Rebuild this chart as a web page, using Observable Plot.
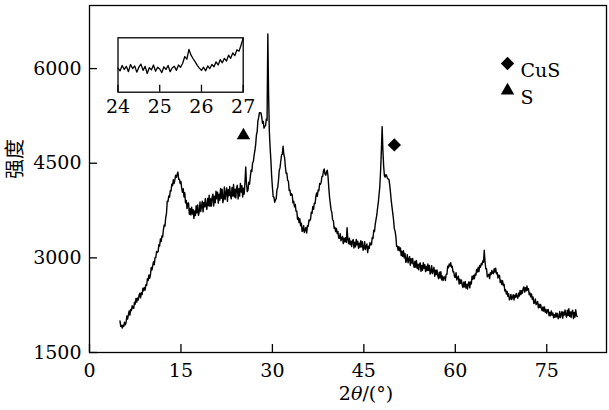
<!DOCTYPE html>
<html><head><meta charset="utf-8">
<script src="https://cdn.jsdelivr.net/npm/d3@7"></script>
<script src="https://cdn.jsdelivr.net/npm/@observablehq/plot@0.6"></script>
<style>
body{margin:0;background:#fff;}
#wrap{position:relative;width:609px;height:410px;overflow:hidden;}
#wrap svg{display:block;}
#insetBox{position:absolute;left:100px;top:30px;}
</style></head><body><div id="wrap"><div id="mainBox"></div><div id="insetBox"></div></div>
<script>
// ---- data ----
const angleStart = 5, angleStep = 0.125;
const intensity = [
2000,1915,1932,1887,1933,1913,1980,1939,
1976,2078,2028,2098,2160,2092,2184,2164,
2240,2204,2200,2297,2266,2358,2298,2366,
2330,2409,2440,2367,2446,2418,2518,2477,
2532,2490,2576,2566,2668,2639,2730,2677,
2736,2848,2808,2878,2940,2892,3004,3004,
3100,3084,3100,3207,3186,3298,3258,3346,
3330,3449,3520,3502,3636,3703,3898,3892,
3982,3960,4066,4061,4168,4144,4240,4177,
4232,4311,4276,4321,4360,4244,4248,4178,
4210,4101,4040,4098,3964,4032,3872,3909,
3780,3867,3870,3691,3778,3679,3804,3696,
3764,3625,3742,3672,3826,3713,3840,3674,
3732,3886,3736,3826,3900,3729,3878,3808,
3940,3819,3770,3942,3826,3993,3818,3936,
3820,3969,4010,3822,3976,3873,4058,3937,
4040,3865,4010,3915,4100,3945,4090,3875,
3940,4123,3925,4028,4110,3895,4080,3985,
4130,3993,3935,4118,3980,4163,3965,4088,
3950,4110,4150,3933,4095,3978,4180,4043,
4145,3965,4105,4010,4200,4440,4180,4050,
4076,4198,4168,4283,4390,4367,4504,4524,
4630,4698,4790,4944,5002,5171,5226,5302,
5300,5298,5230,5134,5162,5056,5086,5094,
5200,5180,6550,5600,5000,4750,4550,4300,
4124,3970,3962,3882,3916,3938,4080,4114,
4232,4386,4426,4536,4630,4644,4768,4638,
4590,4444,4340,4342,4226,4218,4068,4076,
3990,4019,4000,3872,3896,3808,3848,3742,
3740,3610,3640,3560,3620,3510,3550,3420,
3430,3510,3400,3445,3480,3395,3510,3500,
3600,3589,3610,3722,3706,3813,3768,3866,
3860,3969,4030,3977,4076,4063,4178,4167,
4200,4290,4290,4380,4410,4330,4310,4360,
4390,4290,4110,3960,3860,3760,3720,3600,
3592,3470,3486,3416,3468,3384,3420,3312,
3310,3385,3270,3310,3340,3225,3310,3255,
3320,3245,3480,3290,3225,3312,3210,3265,
3180,3271,3290,3156,3249,3174,3292,3206,
3263,3152,3234,3169,3272,3174,3255,3120,
3154,3257,3132,3182,3220,3083,3186,3146,
3240,3209,3210,3322,3306,3438,3418,3536,
3610,3680,3790,3880,4010,4140,4390,4700,
5080,4700,4450,4300,4280,4320,4300,4260,
4250,4240,4150,4030,3900,3800,3700,3600,
3460,3424,3340,3182,3186,3118,3178,3112,
3158,3035,3104,3024,3112,3001,3070,2928,
2954,3052,2922,2977,3020,2883,2986,2916,
2990,2896,2850,2948,2854,2957,2832,2899,
2810,2901,2920,2786,2879,2804,2922,2836,
2893,2782,2864,2799,2902,2801,2880,2743,
2774,2877,2752,2807,2850,2708,2806,2736,
2810,2716,2670,2773,2684,2782,2652,2714,
2640,2694,2700,2642,2736,2738,2868,2842,
2904,2870,2922,2852,2866,2778,2780,2699,
2690,2765,2650,2685,2710,2585,2660,2595,
2650,2570,2530,2615,2540,2625,2520,2578,
2505,2592,2620,2525,2620,2585,2710,2660,
2722,2670,2746,2726,2818,2774,2850,2782,
2880,2850,2910,2890,2950,2930,3120,2940,
2826,2828,2698,2718,2740,2672,2764,2734,
2800,2759,2750,2827,2776,2838,2748,2766,
2680,2724,2720,2607,2646,2578,2638,2562,
2582,2475,2496,2426,2468,2389,2430,2335,
2351,2420,2338,2380,2415,2332,2409,2374,
2435,2382,2360,2442,2396,2483,2418,2481,
2440,2514,2540,2457,2526,2476,2553,2487,
2512,2415,2446,2381,2428,2344,2380,2277,
2286,2348,2258,2288,2310,2207,2264,2214,
2260,2194,2160,2222,2156,2223,2138,2181,
2120,2174,2180,2082,2136,2083,2158,2095,
2127,2050,2101,2059,2128,2064,2120,2035,
2055,2150,2055,2108,2150,2045,2140,2093,
2175,2094,2060,2171,2089,2195,2072,2142,
2055,2149,2170,2038,2134,2060,2177,2090,
2070
];
const insetStart = 24, insetStep = 0.05;
const insetIntensity = [
4040,3980,4100,4010,4080,3960,4120,4030,4090,3950,
4060,4130,3990,4080,3920,4050,4000,4110,3970,4060,
4020,3940,4070,4010,4100,3960,4050,4080,3990,4110,
4060,4150,4300,4240,4460,4330,4250,4180,4100,4040,
3990,4060,3980,4090,4030,4120,4070,4180,4110,4230,
4160,4260,4200,4330,4260,4380,4320,4450,4420,4560,
4710
];
const xTicks = [0, 15, 30, 45, 60, 75];
const yTicks = [1500, 3000, 4500, 6000];
const insetTicks = [24, 25, 26, 27];
const phaseNames = ["CuS", "S"];
const phaseSymbols = ["diamond2", "triangle"];
const phaseAngles = [50.0, 25.25];
const phaseLevels = [4790, 4940];
const yLabel = "强度";

// ---- build ----
const serif = "'DejaVu Serif','Liberation Serif',serif";
const fs = 19;
const data = intensity.map((v, i) => ({angle: angleStart + i * angleStep, value: v}));
const insetData = insetIntensity.map((v, i) => ({angle: insetStart + i * insetStep, value: v}));
const phases = phaseNames.map((n, i) => ({name: n, symbol: phaseSymbols[i], angle: phaseAngles[i], level: phaseLevels[i]}));
const symR = {diamond2: 6, triangle: 5};

const main = Plot.plot({
  width: 609, height: 410,
  marginLeft: 89, marginRight: 3, marginTop: 5, marginBottom: 58,
  style: {fontFamily: serif, fontSize: fs + "px", color: "#000", background: "#fff"},
  x: {domain: [0, 84.8]},
  y: {domain: [1500, 7000]},
  marks: [
    Plot.axisX({ticks: xTicks, tickSize: 8, dy: -8, tickPadding: 11, label: null, fontSize: fs, fontFamily: serif, strokeWidth: 1.3, tickFormat: d => String(d)}),
    Plot.axisY({ticks: yTicks, tickSize: 8, dx: 8, tickPadding: 8, label: null, fontSize: fs, fontFamily: serif, strokeWidth: 1.3, tickFormat: d => String(d)}),
    Plot.line(data, {x: "angle", y: "value", stroke: "#000", strokeWidth: 1.4}),
    ...phases.map(p => Plot.dot([p], {x: "angle", y: "level", symbol: p.symbol, r: symR[p.symbol], fill: "#000", stroke: "none"})),
    ...phases.map((p, i) => Plot.dot([p], {frameAnchor: "top-right", dx: -99, dy: 58 + i * 27, symbol: p.symbol, r: symR[p.symbol], fill: "#000", stroke: "none"})),
    ...phases.map((p, i) => Plot.text([p], {frameAnchor: "top-right", dx: -86, dy: 58 + i * 27, text: "name", textAnchor: "start", fontSize: fs, fontFamily: serif, fill: "#000"})),
    Plot.text([yLabel], {frameAnchor: "left", dx: -74, rotate: -90, fontSize: 20, fontFamily: "'Noto Sans CJK SC', sans-serif", fill: "#000"}),
    Plot.frame({stroke: "#000", strokeWidth: 1.3})
  ]
});
// x-axis title with italic theta
const xt = d3.select(main).append("text")
  .attr("x", 366).attr("y", 400).attr("text-anchor", "middle")
  .attr("font-family", serif).attr("font-size", fs).attr("fill", "#000");
xt.append("tspan").text("2");
xt.append("tspan").attr("font-style", "italic").text("θ");
xt.append("tspan").text("/(°)");
document.getElementById("mainBox").appendChild(main);

const inset = Plot.plot({
  width: 160, height: 95,
  marginLeft: 17.5, marginRight: 17.3, marginTop: 7.3, marginBottom: 33.3,
  style: {fontFamily: serif, fontSize: fs + "px", color: "#000", background: "transparent", overflow: "visible"},
  x: {domain: [24, 27]},
  y: {domain: [3500, 4720], axis: null},
  marks: [
    Plot.frame({fill: "#fff", stroke: "none"}),
    Plot.axisX({ticks: insetTicks, tickSize: 7, dy: -7, tickPadding: 7, label: null, fontSize: fs, fontFamily: serif, strokeWidth: 1.3, tickFormat: d => String(d)}),
    Plot.line(insetData, {x: "angle", y: "value", stroke: "#000", strokeWidth: 1.3}),
    Plot.frame({stroke: "#000", strokeWidth: 1.3})
  ]
});
document.getElementById("insetBox").appendChild(inset);
</script>
</body></html>
